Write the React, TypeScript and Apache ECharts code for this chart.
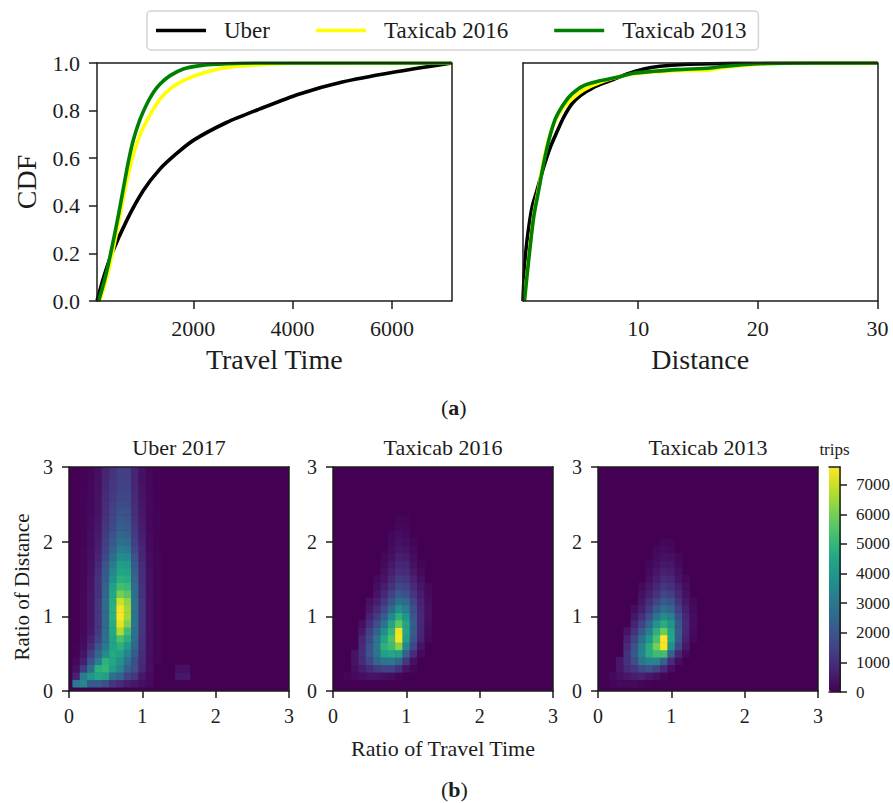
import React, { useEffect, useRef } from "react";
import * as echarts from "echarts";

const FONT = "'Liberation Serif', 'Times New Roman', serif";
const INK = "#1c1c1c";

const seriesNames = ["Uber", "Taxicab 2016", "Taxicab 2013"];
const seriesColors = ["#000000", "#ffff00", "#008000"];

const timeUber = [[60,0],[194,0.10],[361,0.2],[662,0.34],[996,0.465],[1331,0.555],[1665,0.62],[2000,0.675],[2669,0.75],[3338,0.807],[4140,0.87],[5000,0.92],[6000,0.96],[7200,1]];
const time2016 = [[113,0],[260,0.1],[394,0.225],[528,0.365],[662,0.506],[796,0.618],[930,0.70],[1064,0.758],[1198,0.807],[1331,0.849],[1532,0.891],[1799,0.926],[2134,0.954],[2669,0.981],[3338,0.993],[4007,0.999],[7200,1]];
const time2013 = [[93,0],[227,0.1],[361,0.225],[495,0.365],[595,0.478],[696,0.59],[796,0.68],[930,0.765],[1064,0.828],[1198,0.877],[1331,0.912],[1532,0.947],[1799,0.975],[2134,0.989],[2669,0.997],[3338,1],[7200,1]];

const distUber = [[0.38,0],[0.50,0.13],[0.72,0.255],[1.14,0.395],[1.55,0.465],[2.10,0.562],[2.66,0.646],[3.21,0.71],[3.78,0.772],[4.47,0.828],[5.18,0.863],[6.29,0.898],[7.68,0.926],[9.08,0.954],[10.47,0.975],[11.83,0.986],[13.83,0.994],[16.04,0.997],[20,0.999],[30,1]];
const dist2016 = [[0.50,0],[0.85,0.18],[1.27,0.36],[1.69,0.475],[2.10,0.59],[2.53,0.68],[3.08,0.757],[3.78,0.814],[4.47,0.849],[5.45,0.887],[6.85,0.919],[8.24,0.94],[9.62,0.954],[11.3,0.962],[13.2,0.968],[16.04,0.971],[17,0.98],[20,0.995],[25,1],[30,1]];
const dist2013 = [[0.50,0],[0.85,0.17],[1.27,0.352],[1.69,0.465],[2.10,0.576],[2.53,0.674],[3.08,0.765],[3.78,0.828],[4.47,0.87],[5.45,0.905],[6.85,0.926],[8.24,0.94],[9.62,0.957],[11.3,0.965],[13.2,0.972],[16.04,0.979],[17,0.985],[20,0.997],[25,1],[30,1]];

const timeTicks = [2000, 4000, 6000];
const distTicks = [10, 20, 30];
const barTicks = [0, 1000, 2000, 3000, 4000, 5000, 6000, 7000];
const viridis = ["#440154","#482475","#414487","#355f8d","#2a788e","#21918c","#22a884","#44bf70","#7ad151","#bddf26","#fde725"];

// Rows go upwards, columns rightwards; each bin is 0.1 wide.
const uberCells = [
  [3000,3500,2200,2200,1800,1200,900,600,500,300,200],
  [700,3200,4000,4500,4300,2800,2400,1500,1200,500,200,0,0,0,500,500],
  [300,1300,2800,4800,5000,4200,3500,2300,1800,800,300,0,0,0,300,350],
  [150,600,2000,3200,4800,4500,3800,2800,1800,900,250,100],
  [50,400,1400,2500,3600,4600,4300,3400,2200,1000,300,100],
  [50,250,900,2000,3000,4400,4800,4000,2500,1100,300,100],
  [0,200,700,1500,2800,4400,5400,4700,2700,1100,300,100],
  [0,150,500,1300,2700,4600,6700,5200,2800,1200,300,100],
  [0,150,450,1200,2600,4700,7300,6100,2900,1200,300,100],
  [0,150,450,1200,2600,4800,7600,6500,2900,1200,300,100],
  [0,150,450,1200,2600,4800,7500,6500,2900,1200,300,100],
  [0,150,450,1200,2600,4700,7000,6300,2900,1200,300,100],
  [0,150,450,1100,2500,4500,6000,5600,2800,1100,300,100],
  [0,100,400,1100,2400,4300,5300,5100,2600,1100,300,100],
  [0,100,400,1100,2200,3800,4800,4700,2500,1000,300,100],
  [0,100,350,950,2100,3500,4500,4400,2300,1000,300,100],
  [0,100,350,850,1900,3100,4200,4100,2100,900,250,100],
  [0,100,300,750,1700,2700,3700,3600,1900,800,250,100],
  [0,100,300,650,1500,2400,3200,3100,1600,800,200,80],
  [0,80,250,600,1400,2100,2800,2700,1400,700,200,80],
  [0,80,250,550,1300,1900,2500,2400,1300,650,200,80],
  [0,80,200,500,1200,1700,2300,2200,1200,600,180,60],
  [0,80,200,450,1100,1600,2100,2000,1100,550,180,60],
  [0,60,180,400,1000,1500,1900,1850,1000,500,150,60],
  [0,60,180,380,950,1400,1750,1700,950,450,150,50],
  [0,60,150,360,900,1300,1600,1600,900,400,150,50],
  [0,60,150,340,850,1250,1500,1500,850,400,120,50],
  [0,50,130,320,800,1200,1450,1450,800,350,120,50],
  [0,50,130,300,750,1150,1400,1400,750,350,120,50],
  [0,50,130,300,750,1150,1400,1400,750,350,120,50],
];

const taxi2016Cells = [
  [],
  [0,100,200,300,400,400,300,250,100],
  [0,0,300,600,900,1300,1500,1500,1100,400,100],
  [0,0,400,900,1600,2500,2900,3000,2500,1200,300],
  [0,0,400,1000,2000,2900,4300,4500,4300,2300,900,200],
  [0,0,0,900,1900,3000,4800,5200,6200,3500,1600,400],
  [0,0,0,800,1700,2900,4400,5400,7500,4200,2000,700,150],
  [0,0,0,500,1400,2400,3700,5000,7400,4500,2200,800,200],
  [0,0,0,300,1000,1800,2900,4500,5700,4400,2200,850,250],
  [0,0,0,0,700,1300,2200,3500,4800,3900,2000,850,300],
  [0,0,0,0,450,900,1600,2600,3800,3200,1800,800,300],
  [0,0,0,0,300,600,1200,2000,2800,2600,1500,700,250],
  [0,0,0,0,0,400,850,1500,2100,1900,1200,600,200],
  [0,0,0,0,0,250,600,1100,1600,1500,900,450,150],
  [0,0,0,0,0,150,400,850,1300,1200,700,300],
  [0,0,0,0,0,0,300,650,1000,950,500,200],
  [0,0,0,0,0,0,200,500,800,750,350,100],
  [0,0,0,0,0,0,150,350,650,550,250],
  [0,0,0,0,0,0,0,250,450,400,150],
  [0,0,0,0,0,0,0,180,350,280,100],
  [0,0,0,0,0,0,0,120,250,200],
  [0,0,0,0,0,0,0,0,150,120],
  [0,0,0,0,0,0,0,0,100,70],
];

const taxi2013Cells = [
  [0,100,150,150,150,100,50],
  [0,150,350,500,600,700,500,300,100],
  [0,0,500,900,1200,1700,1900,1500,900,300],
  [0,0,500,1100,1800,3000,3400,3400,2400,900,250],
  [0,0,0,1100,2100,3400,4700,5200,5300,2400,800,200],
  [0,0,0,900,1900,3300,4700,6000,7500,3800,1600,500],
  [0,0,0,700,1500,2800,4000,5400,7600,4500,2100,700,150],
  [0,0,0,400,1100,2100,3200,4800,5900,4400,2200,850,200],
  [0,0,0,0,750,1500,2500,3900,4700,4000,2100,900,250],
  [0,0,0,0,450,1000,1800,2900,3700,3300,1800,800,250],
  [0,0,0,0,250,650,1300,2100,2800,2500,1400,650,200],
  [0,0,0,0,0,450,950,1500,2100,1900,1100,500,150],
  [0,0,0,0,0,300,650,1100,1600,1400,850,350],
  [0,0,0,0,0,180,450,800,1200,1050,600,250],
  [0,0,0,0,0,0,300,600,900,800,400,150],
  [0,0,0,0,0,0,200,450,700,600,300],
  [0,0,0,0,0,0,120,320,500,450,200],
  [0,0,0,0,0,0,0,200,350,300,120],
  [0,0,0,0,0,0,0,120,220,180],
  [0,0,0,0,0,0,0,0,130,100],
];

const panelTitles = ["Uber 2017", "Taxicab 2016", "Taxicab 2013"];
const panelLefts = [69, 333, 598];
const colLabels = Array.from({ length: 29 }, (_, i) => String(i));
const rowLabels = Array.from({ length: 30 }, (_, i) => String(i));

function buildOption() {
  const grid: any[] = [];
  const xAxis: any[] = [];
  const yAxis: any[] = [];
  const series: any[] = [];
  const line = { show: true, onZero: false, lineStyle: { color: INK, width: 1.5 } };
  const tick = { show: true, length: 8, lineStyle: { color: INK, width: 1.5 } };
  const smallTick = { ...tick, length: 7 };

  // One framed plot: bottom/left axes carry marks, top/right only close the box.
  const frame = (g: any, xo: any, yo: any, topName?: string, topFont?: number, rightOpts?: any) => {
    const gi = grid.length;
    grid.push({ ...g, containLabel: false });
    const xi = xAxis.length;
    const yi = yAxis.length;
    xAxis.push({ type: "value", gridIndex: gi, position: "bottom", z: 6, axisLine: line, axisTick: tick, splitLine: { show: false }, ...xo });
    xAxis.push({
      type: "value", gridIndex: gi, position: "top", z: 6, min: xo.min, max: xo.max, axisLine: line,
      axisTick: { show: false }, axisLabel: { show: false }, splitLine: { show: false },
      ...(topName ? { name: topName, nameLocation: "middle", nameGap: 9, nameTextStyle: { fontFamily: FONT, fontSize: topFont, color: INK } } : {}),
    });
    yAxis.push({ type: "value", gridIndex: gi, position: "left", z: 6, axisLine: line, axisTick: tick, splitLine: { show: false }, ...yo });
    yAxis.push({
      type: "value", gridIndex: gi, position: "right", z: 6, min: yo.min, max: yo.max, axisLine: line,
      axisTick: { show: false }, axisLabel: { show: false }, splitLine: { show: false }, ...(rightOpts || {}),
    });
    return { xi, yi };
  };

  const plain = (v: number) => String(v);
  const bigLabel = { fontFamily: FONT, fontSize: 22, color: INK, margin: 16 };
  const bigName = { fontFamily: FONT, fontSize: 28, color: INK };
  const cdfY = {
    min: 0, max: 1, interval: 0.2,
    axisLabel: { ...bigLabel, margin: 17, formatter: (v: number) => v.toFixed(1) },
  };

  const a = frame({ left: 97, width: 354.5, top: 63, height: 238 },
    { min: 60, max: 7200, name: "Travel Time", nameLocation: "middle", nameGap: 44, nameTextStyle: bigName,
      axisTick: { ...tick, customValues: timeTicks }, axisLabel: { ...bigLabel, customValues: timeTicks, formatter: plain } },
    { ...cdfY, name: "CDF", nameLocation: "middle", nameGap: 57, nameTextStyle: bigName });
  [timeUber, time2016, time2013].forEach((d, i) => series.push({
    type: "line", name: seriesNames[i], xAxisIndex: a.xi, yAxisIndex: a.yi, data: d, showSymbol: false, symbol: "none",
    smooth: 0.25, lineStyle: { color: seriesColors[i], width: 3.6 }, itemStyle: { color: seriesColors[i] }, z: 3 + i,
  }));

  const b = frame({ left: 523, width: 354.5, top: 63, height: 238 },
    { min: 0.38, max: 30, name: "Distance", nameLocation: "middle", nameGap: 44, nameTextStyle: bigName,
      axisTick: { ...tick, customValues: distTicks }, axisLabel: { ...bigLabel, customValues: distTicks, formatter: plain } },
    { ...cdfY, axisLabel: { show: false }, axisTick: { show: false } });
  [distUber, dist2016, dist2013].forEach((d, i) => series.push({
    type: "line", name: seriesNames[i], xAxisIndex: b.xi, yAxisIndex: b.yi, data: d, showSymbol: false, symbol: "none",
    smooth: 0.25, lineStyle: { color: seriesColors[i], width: 3.6 }, itemStyle: { color: seriesColors[i] }, z: 3 + i,
  }));

  const smallLabel = { fontFamily: FONT, fontSize: 20, color: INK, margin: 15 };
  const T = 467, H = 224, W = 220;
  const cw = W / 30, ch = H / 30;
  [uberCells, taxi2016Cells, taxi2013Cells].forEach((cells, p) => {
    const isFirst = p === 0, isMiddle = p === 1;
    frame({ show: true, left: panelLefts[p], width: W, top: T, height: H, backgroundColor: viridis[0], borderWidth: 0 },
      { min: 0, max: 3, interval: 1, axisTick: smallTick, axisLabel: smallLabel,
        ...(isMiddle ? { name: "Ratio of Travel Time", nameLocation: "middle", nameGap: 46, nameTextStyle: { fontFamily: FONT, fontSize: 22, color: INK } } : {}) },
      { min: 0, max: 3, interval: 1, axisTick: smallTick, axisLabel: { ...smallLabel, margin: 16 },
        ...(isFirst ? { name: "Ratio of Distance", nameLocation: "middle", nameGap: 37, nameTextStyle: { fontFamily: FONT, fontSize: 21, color: INK, padding: [0, 16, 0, 0] } } : {}) },
      panelTitles[p], 22);
    const gi = grid.length;
    grid.push({ left: panelLefts[p] + cw / 2, width: cw * 29, top: T - ch / 2, height: ch * 30 });
    const xi = xAxis.length, yi = yAxis.length;
    xAxis.push({ type: "category", gridIndex: gi, data: colLabels, show: false });
    yAxis.push({ type: "category", gridIndex: gi, data: rowLabels, show: false });
    const data: number[][] = [];
    cells.forEach((row, r) => row.forEach((v, c) => { if (v > 0) data.push([c, r, v]); }));
    series.push({ type: "heatmap", name: panelTitles[p], xAxisIndex: xi, yAxisIndex: yi, data, z: 2, silent: true });
  });

  frame({ left: 829, width: 12, top: T, height: 225 },
    { min: 0, max: 1, axisTick: { show: false }, axisLabel: { show: false } },
    { min: 0, max: 7600, axisLine: { show: false }, axisTick: { show: false }, axisLabel: { show: false } },
    "trips", 17,
    { axisTick: { ...smallTick, customValues: barTicks },
      axisLabel: { show: true, fontFamily: FONT, fontSize: 17, color: INK, margin: 16, customValues: barTicks, formatter: plain } });

  return {
    animation: false,
    backgroundColor: "#ffffff",
    grid, xAxis, yAxis, series,
    legend: {
      show: true, left: 147, top: 11,
      data: seriesNames, icon: "rect", itemWidth: 50, itemHeight: 3.5, itemGap: 46,
      padding: [8, 12, 8, 9], borderColor: "#d4d4d4", borderWidth: 1.5, borderRadius: 4,
      textStyle: { fontFamily: FONT, fontSize: 23, color: INK, padding: [0, 0, 0, 13] },
    },
    visualMap: {
      type: "continuous", show: true, min: 0, max: 7600, dimension: 2, seriesIndex: [6, 7, 8],
      left: 829, top: T, itemWidth: 12, itemHeight: 225, padding: 0, calculable: false, hoverLink: false,
      text: ["", ""], inRange: { color: viridis },
    },
    graphic: [
      { type: "rect", z: 5, silent: true, shape: { x: panelLefts[0], y: T - ch / 2 - 1, width: W, height: ch / 2 + 1 }, style: { fill: "#ffffff" } },
      { type: "text", left: 441, top: 396, style: { text: "({b|a})", fontFamily: FONT, fontSize: 22, fill: INK, rich: { b: { fontFamily: FONT, fontSize: 22, fontWeight: "bold", fill: INK } } } },
      { type: "text", left: 441, top: 778, style: { text: "({b|b})", fontFamily: FONT, fontSize: 22, fill: INK, rich: { b: { fontFamily: FONT, fontSize: 22, fontWeight: "bold", fill: INK } } } },
    ],
  };
}

export default function App() {
  const ref = useRef<HTMLDivElement>(null);
  useEffect(() => {
    const chart = echarts.init(ref.current!, undefined, { renderer: "svg" });
    chart.setOption(buildOption() as any);
    return () => chart.dispose();
  }, []);
  return <div ref={ref} style={{ position: "absolute", left: 0, top: 0, width: 893, height: 803 }} />;
}
